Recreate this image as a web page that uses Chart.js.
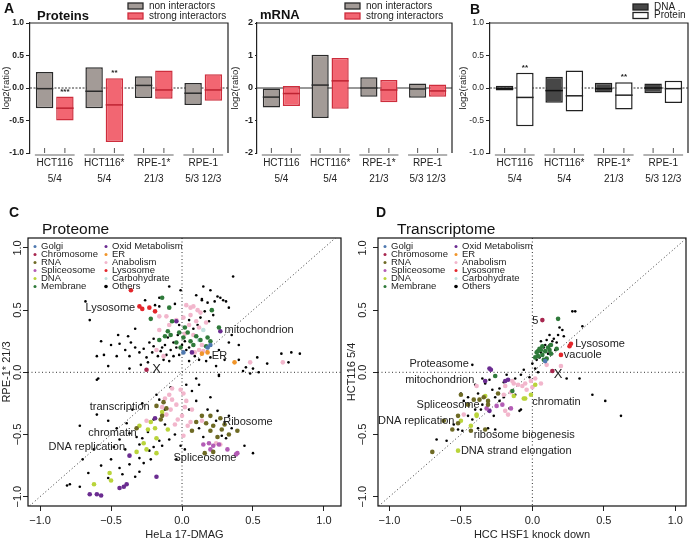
<!DOCTYPE html>
<html>
<head>
<meta charset="utf-8">
<script src="https://cdn.jsdelivr.net/npm/chart.js@4.4.1/dist/chart.umd.min.js"></script>
<style>
body { margin: 0; width: 690px; height: 543px; background: #fff; position: relative; overflow: hidden; }
canvas { position: absolute; }
</style>
</head>
<body>
<canvas id="proteins-chart" width="230" height="195" style="left:0;top:0"></canvas>
<canvas id="mrna-chart" width="224" height="195" style="left:230px;top:0"></canvas>
<canvas id="dna-chart" width="238" height="195" style="left:452px;top:0"></canvas>
<canvas id="proteome-chart" width="345" height="343" style="left:0;top:200px"></canvas>
<canvas id="transcriptome-chart" width="345" height="343" style="left:345px;top:200px"></canvas>
<script>
// Box data (panels A and B)
const cellLines = ['HCT116', 'HCT116*', 'RPE-1*', 'RPE-1'];
const cellDates = ['5/4', '5/4', '21/3', '5/3 12/3'];

const protNonLow = [-0.31, -0.31, -0.155, -0.26];
const protNonHigh = [0.246, 0.32, 0.18, 0.077];
const protNonMedian = [-0.01, -0.05, 0.04, -0.08];
const protStrongLow = [-0.50, -0.83, -0.165, -0.195];
const protStrongHigh = [-0.13, 0.15, 0.27, 0.21];
const protStrongMedian = [-0.31, -0.26, -0.03, -0.03];
const protStrongStars = ['***', '**', '', ''];

const mrnaNonLow = [-0.6, -0.92, -0.27, -0.3];
const mrnaNonHigh = [0, 1.02, 0.33, 0.14];
const mrnaNonMedian = [-0.28, 0.09, 0.0, -0.03];
const mrnaStrongLow = [-0.55, -0.64, -0.44, -0.27];
const mrnaStrongHigh = [0.06, 0.92, 0.25, 0.11];
const mrnaStrongMedian = [-0.17, 0.22, -0.06, -0.09];

const dnaLow = [-0.04, -0.225, -0.07, -0.08];
const dnaHigh = [0.035, 0.175, 0.08, 0.07];
const dnaMedian = [-0.01, -0.04, -0.01, 0.0];
const proteinLow = [-0.59, -0.36, -0.33, -0.23];
const proteinHigh = [0.235, 0.27, 0.09, 0.11];
const proteinMedian = [-0.145, -0.12, -0.11, -0.01];
const proteinStars = ['**', '', '**', ''];

// Scatter data (panels C and D), [x, y]
const categories = ['Golgi', 'Chromosome', 'RNA', 'Spliceosome', 'DNA', 'Membrane',
    'Oxid Metabolism', 'ER', 'Anabolism', 'Lysosome', 'Carbohydrate', 'Others'];
const catColors = ['#4f79b0', '#a8274f', '#6e6a24', '#b35cb5', '#b9d43a', '#2f7a3a',
    '#6b2c91', '#f0952a', '#f2b6cc', '#e3262b', '#bfe0dd', '#000000'];

const protGolgi = [[0.01,0.16],[0.20,0.22],[0.18,0.20]];
const protChromosome = [[-0.25,0.02]];
const protRNA = [[-0.18,-0.27],[-0.11,-0.29],[-0.14,-0.35],[-0.15,-0.38],[0.07,-0.47],[0.14,-0.35],[0.20,-0.35],
    [0.27,-0.37],[0.17,-0.41],[0.22,-0.43],[0.28,-0.46],[0.33,-0.50],[0.39,-0.47],[0.20,-0.47],[0.16,-0.65],
    [0.22,-0.64],[-0.32,-0.45],[0.10,-0.40],[0.30,-0.42],[0.25,-0.52],[-0.13,-0.24]];
const protSpliceosome = [[0.15,-0.58],[0.19,-0.57],[0.22,-0.59],[0.26,-0.58],[0.20,-0.62],[0.39,-0.65],[0.32,-0.62],[0.38,-0.66]];
const protDNA = [[-0.30,-0.43],[-0.24,-0.46],[-0.19,-0.45],[-0.18,-0.53],[-0.27,-0.57],[-0.32,-0.64],[-0.25,-0.62],
    [-0.18,-0.65],[-0.51,-0.81],[-0.50,-0.87],[-0.62,-0.90],[-0.10,-0.46],[-0.22,-0.40],[-0.14,-0.32]];
const protMembrane = [[-0.14,0.60],[-0.09,0.52],[-0.22,0.43],[0.21,0.50],[0.26,0.36],[-0.07,0.41],[-0.08,0.30],
    [-0.02,0.32],[0.01,0.28],[0.04,0.32],[0.06,0.25],[0.10,0.29],[-0.04,0.24],[-0.12,0.29],[0.18,0.28],
    [0.20,0.25],[0.17,0.21],[-0.16,0.26],[0.02,0.36],[0.08,0.22],[-0.01,0.20],[0.13,0.26],[-0.10,0.33]];
const protOxid = [[-0.04,0.41],[0.27,0.33],[0.07,0.16],[-0.19,-0.37],[-0.37,-0.67],[-0.18,-0.84],[-0.44,-0.93],
    [-0.41,-0.92],[-0.39,-0.90],[-0.65,-0.98],[-0.60,-0.98],[-0.57,-0.99]];
const protER = [[0.14,0.15],[0.18,0.16],[0.37,0.08]];
const protAnabolism = [[-0.16,0.45],[-0.11,0.45],[0.03,0.54],[0.06,0.52],[0.08,0.53],[0.11,0.50],[0.13,0.48],
    [0.06,0.46],[0.01,0.44],[-0.09,0.38],[-0.04,0.42],[0.10,0.41],[0.17,0.40],[-0.16,0.34],[-0.18,0.18],
    [0.14,0.22],[0.12,0.18],[0.09,0.16],[0.15,0.17],[0.48,0.08],[0.71,0.08],[0.12,0.36],[0.08,0.30],[0.05,0.38],
    [-0.07,-0.13],[-0.01,-0.14],[0.01,-0.17],[-0.09,-0.18],[-0.07,-0.22],[-0.12,-0.21],[-0.04,-0.26],[0.03,-0.23],
    [0.07,-0.30],[0.00,-0.35],[-0.03,-0.38],[-0.11,-0.34],[0.04,-0.43],[0.14,-0.39],[-0.25,-0.39],[0.01,-0.51],
    [0.06,-0.40],[-0.05,-0.42],[-0.08,-0.30],[0.24,-0.57],[0.27,-0.58],[0.02,0.31],[-0.13,0.13],[-0.14,-0.28],[0.02,-0.28]];
const protLysosome = [[-0.36,0.66],[-0.30,0.53],[-0.28,0.51],[-0.23,0.52],[-0.19,0.49]];
const protCarbohydrate = [[0.15,0.34],[0.12,0.26]];
const protOthers = [[0.36,0.77],[-0.09,0.69],[-0.01,0.66],[0.15,0.69],[0.20,0.66],[0.25,0.61],[0.29,0.58],
    [0.23,0.57],[0.33,0.52],[0.14,0.58],[0.18,0.56],[0.16,0.49],[0.13,0.44],[0.19,0.41],[0.22,0.46],[0.11,0.38],
    [0.14,0.59],[0.27,0.60],[0.31,0.57],[-0.16,0.60],[-0.65,0.42],[-0.68,0.57],[-0.16,0.53],[-0.19,0.54],[-0.26,0.58],
    [-0.57,0.25],[-0.55,0.14],[-0.50,0.22],[-0.44,0.23],[-0.38,0.29],[-0.36,0.24],[-0.33,0.20],[-0.30,0.16],
    [-0.37,0.13],[-0.25,0.12],[-0.29,0.06],[-0.20,0.21],[-0.17,0.13],[-0.14,0.20],[-0.11,0.14],[-0.09,0.09],
    [-0.06,0.13],[-0.23,0.24],[-0.20,0.27],[-0.12,0.22],[-0.08,0.18],[-0.04,0.20],[0.02,0.25],[0.05,0.20],
    [-0.03,0.30],[-0.15,0.17],[-0.27,0.19],[-0.40,0.18],[-0.46,0.13],[-0.60,0.13],[-0.02,0.38],[0.05,0.42],[0.08,0.35],
    [0.26,0.18],[0.33,0.24],[0.40,0.22],[0.53,0.12],[0.60,0.07],[0.70,0.15],[0.77,0.16],[0.83,0.15],[0.75,0.08],
    [0.43,0.01],[0.48,-0.01],[0.54,0.00],[0.26,-0.02],[0.17,0.09],[0.05,0.09],[-0.37,0.03],[-0.59,-0.05],
    [0.45,0.04],[0.50,0.03],[0.30,0.10],[0.40,0.10],
    [-0.60,-0.06],[-0.72,-0.43],[-0.60,-0.34],[-0.52,-0.39],[-0.46,-0.45],[-0.39,-0.41],[-0.37,-0.49],[-0.44,-0.54],
    [-0.28,-0.53],[-0.16,-0.55],[-0.14,-0.59],[-0.09,-0.54],[-0.23,-0.63],[-0.30,-0.69],[-0.27,-0.73],[-0.22,-0.70],
    [-0.37,-0.74],[-0.44,-0.77],[-0.57,-0.75],[-0.66,-0.81],[-0.33,-0.84],[-0.30,-0.80],[-0.79,-0.90],[-0.81,-0.91],
    [-0.72,-0.92],[-0.04,-0.70],[-0.01,-0.59],[0.03,-0.10],[0.07,-0.15],[0.12,-0.10],[0.10,-0.23],[0.25,-0.31],
    [0.24,-0.39],[0.28,-0.51],[0.31,-0.53],[0.44,-0.59],[0.50,-0.65],[0.26,-0.03],[-0.18,-0.18],[-0.16,-0.22],
    [-0.20,-0.38],[-0.24,-0.48],[-0.30,-0.58],[-0.20,-0.60],[-0.32,-0.52],[-0.12,-0.42],[0.05,-0.30],[0.12,-0.45],
    [0.18,-0.30],[0.35,-0.45],[0.30,-0.40],[-0.50,-0.70],[-0.52,-0.85],[-0.42,-0.82],[-0.12,-0.30],[-0.08,-0.12],[0.10,-0.05],
    [-0.10,0.28],[-0.06,0.24],[0.00,0.22],[0.03,0.18],[-0.13,0.10],[-0.21,0.16],[-0.24,0.08],[0.09,0.13],[0.12,0.10],
    [-0.02,0.14],[0.20,0.12],[0.24,0.05],[0.35,0.30],[0.10,0.62],[-0.05,0.55],[-0.33,0.35],[-0.45,0.30],[-0.52,0.05],
    [-0.28,-0.25],[-0.35,-0.30],[-0.05,-0.50],[0.02,-0.62],[0.15,-0.52],[0.20,-0.20],[0.33,-0.35],[-0.62,-0.62],
    [-0.70,-0.70],[-0.40,-0.62],[-0.48,-0.60]];

const transGolgi = [[0.09,0.09]];
const transChromosome = [[0.07,0.42],[0.14,0.01]];
const transRNA = [[-0.50,-0.18],[-0.37,-0.22],[-0.31,-0.26],[-0.52,-0.35],[-0.62,-0.39],[-0.43,-0.47],[-0.33,-0.46],
    [-0.70,-0.64],[-0.45,-0.26],[-0.56,-0.46],[-0.52,-0.41],[-0.31,-0.23],[-0.41,-0.22],[-0.24,-0.17],[-0.34,-0.20]];
const transSpliceosome = [[-0.21,-0.26],[-0.15,-0.29],[-0.32,-0.29],[-0.25,-0.27]];
const transDNA = [[-0.33,-0.19],[-0.39,-0.34],[-0.50,-0.39],[-0.43,-0.43],[-0.52,-0.63],[-0.13,-0.19],[-0.05,-0.21],
    [-0.01,-0.18],[0.02,-0.10],[-0.06,-0.21],[-0.39,-0.35]];
const transMembrane = [[0.18,0.43],[0.05,0.19],[0.07,0.14],[0.04,0.13],[0.09,0.17],[0.13,0.15],[0.17,0.19],
    [0.10,0.11],[-0.26,-0.03],[-0.14,-0.15],[0.06,0.18],[0.13,0.22],[0.03,0.16],[0.08,0.10],[0.11,0.20],[0.02,0.12],
    [0.07,0.21],[0.12,0.18],[0.04,0.17]];
const transOxid = [[-0.30,0.03],[-0.33,-0.07],[-0.19,-0.07],[-0.17,-0.06],[-0.30,-0.31],[-0.29,0.02]];
const transER = [];
const transAnabolism = [[0.20,0.05],[0.10,0.06],[0.02,-0.05],[-0.01,-0.07],[-0.05,-0.09],[-0.07,-0.11],[-0.10,-0.10],
    [-0.13,-0.09],[-0.19,-0.11],[-0.20,-0.18],[-0.39,-0.11],[-0.19,-0.31],[-0.17,-0.34],[-0.48,-0.34],[-0.14,-0.07],
    [0.06,-0.09],[0.00,-0.12],[-0.04,-0.14],[-0.15,-0.16]];
const transLysosome = [[0.27,0.23],[0.20,0.14],[0.26,0.21]];
const transCarbohydrate = [];
const transOthers = [[0.28,0.49],[0.30,0.49],[0.35,0.37],[0.21,0.34],[0.22,0.29],[0.12,0.22],[0.14,0.25],[0.26,0.22],
    [0.10,0.26],[0.08,0.20],[0.16,0.18],[-0.42,0.06],[0.33,-0.05],[0.42,-0.18],[0.51,-0.23],[0.62,-0.35],[0.02,0.03],
    [-0.06,0.02],[-0.08,-0.02],[-0.35,-0.05],[-0.33,-0.09],[-0.30,-0.06],[-0.23,-0.13],[-0.28,-0.14],[-0.50,-0.17],
    [-0.48,-0.23],[-0.38,-0.17],[-0.35,-0.26],[-0.23,-0.23],[-0.16,-0.29],[-0.09,-0.31],[-0.27,-0.35],[-0.52,-0.46],
    [-0.49,-0.47],[-0.67,-0.54],[-0.60,-0.55],[-0.31,-0.45],[-0.26,-0.46],[-0.08,-0.30],[0.24,-0.05],[0.05,0.12],
    [0.00,0.07],[0.04,0.00],[-0.12,-0.05],[-0.18,-0.02],[-0.40,-0.10],[-0.45,-0.20],[-0.20,-0.20],[-0.12,-0.18],
    [0.18,0.30],[0.06,0.25],[-0.02,-0.04],[-0.40,-0.30],[-0.42,-0.38],
    [0.06,0.16],[0.09,0.22],[0.11,0.15],[0.03,0.10],[0.15,0.27],[0.12,0.30],[0.19,0.36],[0.17,0.24],[-0.20,-0.08],
    [-0.26,-0.20],[-0.36,-0.30],[-0.45,-0.35],[-0.55,-0.42],[-0.38,-0.45]];

// Text labels placed on the scatter plots: [text, x, y, size]
const protNotes = [['Lysosome',-0.68,0.52,11],['mitochondrion',0.30,0.34,11],['ER',0.21,0.13,11],['X',-0.21,0.02,13],
    ['transcription',-0.65,-0.28,11],['chromatin',-0.66,-0.49,11],['DNA replication',-0.94,-0.60,11],
    ['Ribosome',0.29,-0.40,11],['Spliceosome',-0.06,-0.69,11]];
const transNotes = [['5',0.0,0.41,11],['Lysosome',0.30,0.23,11],['vacuole',0.22,0.14,11],['Proteasome',-0.86,0.07,11],
    ['mitochondrion',-0.89,-0.06,11],['X',0.15,-0.02,13],['Spliceosome',-0.81,-0.26,11],['chromatin',0.0,-0.24,11],
    ['DNA replication',-1.08,-0.39,11],['ribosome biogenesis',-0.41,-0.50,11],['DNA strand elongation',-0.50,-0.63,11]];

const FONT = '"Liberation Sans", Arial, Helvetica, sans-serif';
Chart.defaults.font.family = FONT;
Chart.defaults.color = '#222';

const boxDecor = {
    id: 'boxDecor',
    beforeDatasetsDraw(chart, args, opts) {
        const { ctx, chartArea: a, scales: { y } } = chart;
        const y0 = y.getPixelForValue(0);
        ctx.save();
        ctx.strokeStyle = '#333';
        ctx.lineWidth = 1;
        ctx.setLineDash(opts.zeroDash);
        ctx.beginPath();
        ctx.moveTo(a.left, y0);
        ctx.lineTo(a.right, y0);
        ctx.stroke();
        ctx.restore();
    },
    afterDraw(chart, args, opts) {
        const { ctx, chartArea: a, scales: { y } } = chart;
        ctx.save();
        ctx.strokeStyle = '#222';
        ctx.lineWidth = 1.2;
        ctx.beginPath();
        ctx.moveTo(a.left, a.top);
        ctx.lineTo(a.right, a.top);
        ctx.lineTo(a.right, a.bottom);
        ctx.stroke();

        chart.data.datasets.forEach((ds, di) => {
            chart.getDatasetMeta(di).data.forEach((bar, i) => {
                const ym = y.getPixelForValue(ds.medians[i]);
                ctx.strokeStyle = ds.medianColor;
                ctx.lineWidth = 1.5;
                ctx.beginPath();
                ctx.moveTo(bar.x - bar.width / 2, ym);
                ctx.lineTo(bar.x + bar.width / 2, ym);
                ctx.stroke();
                ctx.strokeStyle = '#555';
                ctx.lineWidth = 1;
                ctx.beginPath();
                ctx.moveTo(bar.x, a.bottom - 5);
                ctx.lineTo(bar.x, a.bottom);
                ctx.stroke();
                if (ds.stars && ds.stars[i]) {
                    ctx.fillStyle = '#222';
                    ctx.font = 'bold 8px ' + FONT;
                    ctx.textAlign = 'center';
                    ctx.textBaseline = 'middle';
                    ctx.fillText(ds.stars[i], bar.x, Math.min(bar.y, bar.base) - 5);
                }
            });
        });

        // grey line under each pair
        const first = chart.getDatasetMeta(0).data;
        const last = chart.getDatasetMeta(chart.data.datasets.length - 1).data;
        ctx.strokeStyle = '#999';
        ctx.lineWidth = 1.5;
        first.forEach((b, i) => {
            ctx.beginPath();
            ctx.moveTo(b.x - b.width / 2 - 1, a.bottom + 2);
            ctx.lineTo(last[i].x + last[i].width / 2 + 1, a.bottom + 2);
            ctx.stroke();
        });

        // panel letter and title
        ctx.fillStyle = '#111';
        ctx.textBaseline = 'middle';
        ctx.textAlign = 'left';
        if (opts.letter) {
            ctx.font = 'bold 14px ' + FONT;
            ctx.fillText(opts.letter[0], opts.letter[1], opts.letter[2]);
        }
        if (opts.title) {
            ctx.font = 'bold 13px ' + FONT;
            ctx.fillText(opts.title[0], opts.title[1], opts.title[2]);
        }

        // legend
        const lg = opts.legend;
        chart.data.datasets.forEach((ds, i) => {
            const ly = lg.y + i * lg.step;
            ctx.fillStyle = ds.backgroundColor;
            ctx.fillRect(lg.x, ly - 3, 15, 6);
            ctx.strokeStyle = ds.borderColor;
            ctx.lineWidth = 1.3;
            ctx.strokeRect(lg.x, ly - 3, 15, 6);
            ctx.fillStyle = '#222';
            ctx.font = '10px ' + FONT;
            ctx.fillText(ds.label, lg.x + 21, ly);
        });
        ctx.restore();
    }
};

function makeBoxChart(id, series, cfg) {
    const ctx = document.getElementById(id).getContext('2d');
    return new Chart(ctx, {
        type: 'bar',
        data: {
            labels: cellLines.map((c, i) => [c, cellDates[i]]),
            datasets: series.map(s => ({
                label: s.label,
                data: s.low.map((v, i) => [v, s.high[i]]),
                medians: s.median,
                medianColor: s.medianColor,
                stars: s.stars,
                backgroundColor: s.fill,
                borderColor: s.border,
                borderWidth: 1.5,
                borderSkipped: false,
                categoryPercentage: 0.82,
                barPercentage: 0.86
            }))
        },
        options: {
            responsive: false,
            animation: false,
            devicePixelRatio: 1,
            layout: { padding: { top: 23, right: 2, left: 0, bottom: 0 } },
            plugins: {
                legend: { display: false },
                tooltip: { enabled: false },
                boxDecor: cfg.decor
            },
            scales: {
                x: {
                    grid: { display: false, drawTicks: false },
                    border: { display: false },
                    ticks: { font: { size: 10, lineHeight: 1.6 }, color: '#222', padding: 2, maxRotation: 0, autoSkip: false },
                    afterFit: s => { s.height = 195 - 23 - 130; }
                },
                y: {
                    min: cfg.min,
                    max: cfg.max,
                    ticks: {
                        stepSize: cfg.step,
                        font: { size: cfg.tickSize, weight: cfg.tickWeight },
                        color: '#222',
                        padding: 2,
                        callback: cfg.format
                    },
                    grid: { drawOnChartArea: false, tickLength: cfg.tickLength, color: '#222' },
                    border: { color: '#222', width: 1.2 },
                    title: { display: true, text: 'log2(ratio)', font: { size: 9.5 }, padding: { top: cfg.titlePad, bottom: 0 }, color: '#222' },
                    afterFit: s => { s.width = cfg.yWidth; }
                }
            }
        },
        plugins: [boxDecor]
    });
}

const gray = 'rgb(163,155,151)';
const red = 'rgb(242,102,114)';

makeBoxChart('proteins-chart', [
    { label: 'non interactors', low: protNonLow, high: protNonHigh, median: protNonMedian,
      fill: gray, border: '#2a2a2a', medianColor: '#2a2a2a' },
    { label: 'strong interactors', low: protStrongLow, high: protStrongHigh, median: protStrongMedian,
      stars: protStrongStars, fill: red, border: 'rgb(205,45,60)', medianColor: 'rgb(190,35,50)' }
], {
    min: -1, max: 1, step: 0.5, tickSize: 8.5, tickWeight: 'bold', tickLength: 4, yWidth: 30, titlePad: 1,
    format: v => v.toFixed(1),
    decor: { zeroDash: [2, 1.5], letter: ['A', 4, 9], title: ['Proteins', 37, 16], legend: { x: 128, y: 6, step: 10 } }
});

makeBoxChart('mrna-chart', [
    { label: 'non interactors', low: mrnaNonLow, high: mrnaNonHigh, median: mrnaNonMedian,
      fill: gray, border: '#2a2a2a', medianColor: '#2a2a2a' },
    { label: 'strong interactors', low: mrnaStrongLow, high: mrnaStrongHigh, median: mrnaStrongMedian,
      fill: red, border: 'rgb(205,45,60)', medianColor: 'rgb(190,35,50)' }
], {
    min: -2, max: 2, step: 1, tickSize: 9, tickWeight: 'bold', tickLength: 2, yWidth: 27, titlePad: 0,
    format: v => String(v),
    decor: { zeroDash: [], title: ['mRNA', 30, 15], legend: { x: 115, y: 6, step: 10 } }
});

makeBoxChart('dna-chart', [
    { label: 'DNA', low: dnaLow, high: dnaHigh, median: dnaMedian,
      fill: '#474747', border: '#222', medianColor: '#111' },
    { label: 'Protein', low: proteinLow, high: proteinHigh, median: proteinMedian,
      stars: proteinStars, fill: '#ffffff', border: '#222', medianColor: '#222' }
], {
    min: -1, max: 1, step: 0.5, tickSize: 8.5, tickWeight: 'normal', tickLength: 4, yWidth: 38, titlePad: 6,
    format: v => v.toFixed(1),
    decor: { zeroDash: [2, 1.5], letter: ['B', 18, 10], legend: { x: 181, y: 7, step: 8.5 } }
});

// Scatter panels
const scatterDecor = {
    id: 'scatterDecor',
    beforeDatasetsDraw(chart) {
        const { ctx, chartArea: a, scales: { x, y } } = chart;
        ctx.save();
        ctx.beginPath();
        ctx.rect(a.left, a.top, a.width, a.height);
        ctx.clip();
        ctx.strokeStyle = '#333';
        ctx.lineWidth = 1;
        ctx.setLineDash([1, 2.5]);
        const x0 = x.getPixelForValue(0);
        const y0 = y.getPixelForValue(0);
        ctx.beginPath();
        ctx.moveTo(x0, a.top);
        ctx.lineTo(x0, a.bottom);
        ctx.moveTo(a.left, y0);
        ctx.lineTo(a.right, y0);
        ctx.moveTo(x.getPixelForValue(-1.5), y.getPixelForValue(-1.5));
        ctx.lineTo(x.getPixelForValue(1.5), y.getPixelForValue(1.5));
        ctx.stroke();
        ctx.restore();
    },
    afterDraw(chart, args, opts) {
        const { ctx, chartArea: a, scales: { x, y } } = chart;
        ctx.save();
        ctx.strokeStyle = '#111';
        ctx.lineWidth = 1.2;
        ctx.strokeRect(a.left, a.top, a.width, a.height);

        // y tick labels, parallel to the axis
        ctx.fillStyle = '#222';
        ctx.font = '11px ' + FONT;
        ctx.textAlign = 'center';
        ctx.textBaseline = 'middle';
        y.ticks.forEach(t => {
            ctx.save();
            ctx.translate(18, y.getPixelForValue(t.value));
            ctx.rotate(-Math.PI / 2);
            ctx.fillText((t.value < 0 ? '\u2212' : '') + Math.abs(t.value).toFixed(1), 0, 0);
            ctx.restore();
        });

        // legend in two columns
        ctx.textAlign = 'left';
        ctx.font = '9.5px ' + FONT;
        categories.forEach((c, i) => {
            const col = Math.floor(i / 6);
            const ly = a.top + 8.5 + (i % 6) * 8;
            const mx = a.left + 7 + col * 71;
            ctx.fillStyle = catColors[i];
            ctx.beginPath();
            ctx.arc(mx, ly, c === 'Others' ? 1.8 : 1.5, 0, Math.PI * 2);
            ctx.fill();
            ctx.fillStyle = '#222';
            ctx.fillText(c, mx + 6, ly);
        });

        // annotations
        opts.notes.forEach(n => {
            ctx.font = n[3] + 'px ' + FONT;
            ctx.fillText(n[0], x.getPixelForValue(n[1]), y.getPixelForValue(n[2]));
        });

        ctx.fillStyle = '#111';
        ctx.font = 'bold 14px ' + FONT;
        ctx.fillText(opts.letter[0], opts.letter[1], 13);
        ctx.font = '15.5px ' + FONT;
        ctx.textBaseline = 'alphabetic';
        ctx.fillText(opts.title[0], opts.title[1], 34);
        ctx.restore();
    }
};

function makeScatter(id, series, cfg) {
    const ctx = document.getElementById(id).getContext('2d');
    return new Chart(ctx, {
        type: 'scatter',
        data: {
            datasets: categories.map((c, i) => ({
                label: c,
                data: series[i].map(p => ({ x: p[0], y: p[1] })),
                backgroundColor: catColors[i],
                borderWidth: 0,
                pointRadius: c === 'Others' ? 1.3 : 2.3,
                order: c === 'Others' ? 1 : 0
            }))
        },
        options: {
            responsive: false,
            animation: false,
            devicePixelRatio: 1,
            layout: { padding: { top: 38, right: 2, left: 0, bottom: 0 } },
            plugins: {
                legend: { display: false },
                tooltip: { enabled: false },
                scatterDecor: cfg.decor
            },
            scales: {
                x: {
                    min: cfg.xMin,
                    max: cfg.xMax,
                    grid: { drawOnChartArea: false, tickLength: 5, color: '#222' },
                    border: { display: false },
                    ticks: {
                        stepSize: 0.5, includeBounds: false, font: { size: 11 }, color: '#222', padding: 3,
                        callback: v => (v < 0 ? '\u2212' : '') + Math.abs(v).toFixed(1)
                    },
                    title: { display: true, text: cfg.xTitle, font: { size: 11 }, padding: { top: 0, bottom: 1.5 }, color: '#222' },
                    afterFit: s => { s.height = 37; }
                },
                y: {
                    min: -1.075,
                    max: 1.08,
                    grid: { drawOnChartArea: false, tickLength: 5, color: '#222' },
                    border: { display: false },
                    ticks: { stepSize: 0.5, includeBounds: false, display: false },
                    title: { display: true, text: cfg.yTitle, font: { size: 11 }, padding: { top: 0, bottom: 0 }, color: '#222' },
                    afterFit: s => { s.width = cfg.yWidth; }
                }
            }
        },
        plugins: [scatterDecor]
    });
}

makeScatter('proteome-chart',
    [protGolgi, protChromosome, protRNA, protSpliceosome, protDNA, protMembrane,
     protOxid, protER, protAnabolism, protLysosome, protCarbohydrate, protOthers],
    { xMin: -1.085, xMax: 1.12, yWidth: 28, xTitle: 'HeLa 17-DMAG', yTitle: 'RPE-1* 21/3',
      decor: { notes: protNotes, letter: ['C', 9], title: ['Proteome', 42] } });

makeScatter('transcriptome-chart',
    [transGolgi, transChromosome, transRNA, transSpliceosome, transDNA, transMembrane,
     transOxid, transER, transAnabolism, transLysosome, transCarbohydrate, transOthers],
    { xMin: -1.08, xMax: 1.075, yWidth: 33, xTitle: 'HCC HSF1 knock down', yTitle: 'HCT116 5/4',
      decor: { notes: transNotes, letter: ['D', 31], title: ['Transcriptome', 52] } });
</script>
</body>
</html>
